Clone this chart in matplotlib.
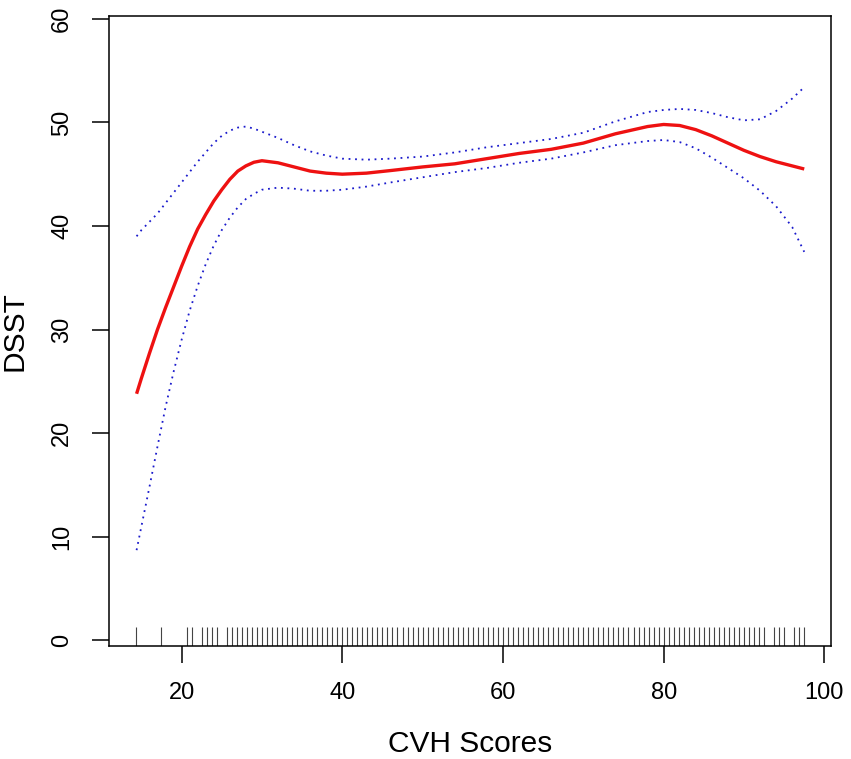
import matplotlib
matplotlib.use("Agg")
import matplotlib.pyplot as plt
import matplotlib.transforms as mtransforms

plt.rcParams['font.family'] = ['Liberation Sans', 'DejaVu Sans']

cvh = [14.4, 15, 16, 17, 18, 19, 20, 21, 22, 23, 24, 25, 26, 27, 28, 29, 30,
       32, 34, 36, 38, 40, 43, 46, 50, 54, 58, 62, 66, 70, 74, 78, 80, 82,
       84, 86, 88, 90, 92, 94, 96, 97.5]

# fitted DSST (red solid)
dsst_fit = [23.8, 25.3, 27.7, 30.0, 32.1, 34.1, 36.1, 38.0, 39.7, 41.1, 42.4,
            43.5, 44.5, 45.3, 45.8, 46.15, 46.3, 46.1, 45.7, 45.3, 45.1, 45.0,
            45.1, 45.35, 45.7, 46.0, 46.5, 47.0, 47.4, 48.0, 48.9, 49.6, 49.8,
            49.7, 49.3, 48.7, 48.0, 47.3, 46.7, 46.2, 45.8, 45.5]

# upper / lower 95% CI (blue dotted)
dsst_upper = [39.0, 39.6, 40.4, 41.2, 42.2, 43.2, 44.2, 45.2, 46.2, 47.1, 48.0,
              48.7, 49.2, 49.5, 49.6, 49.4, 49.1, 48.5, 47.8, 47.2, 46.8, 46.5,
              46.4, 46.5, 46.7, 47.1, 47.6, 48.0, 48.4, 49.0, 50.1, 51.0, 51.2,
              51.3, 51.2, 50.9, 50.5, 50.2, 50.3, 51.1, 52.3, 53.4]
dsst_lower = [8.7, 11.0, 14.8, 18.7, 22.5, 25.9, 29.0, 31.8, 34.2, 36.3, 38.1,
              39.6, 40.8, 41.8, 42.6, 43.1, 43.5, 43.7, 43.6, 43.4, 43.4, 43.5,
              43.8, 44.2, 44.7, 45.2, 45.6, 46.1, 46.5, 47.1, 47.8, 48.2, 48.3,
              48.1, 47.5, 46.6, 45.6, 44.6, 43.4, 41.9, 39.9, 37.5]

# observed CVH scores (rug)
rug_scores = [
    14.375, 17.5, 20.625, 21.25, 22.5, 23.125, 23.75, 24.375,
    25.625, 26.25, 26.875, 27.5, 28.125, 28.75, 29.375,
    30.0, 30.625, 31.25, 31.875, 32.5, 33.125, 33.75, 34.375,
    35.0, 35.625, 36.25, 36.875, 37.5, 38.125, 38.75, 39.375,
    40.0, 40.625, 41.25, 41.875, 42.5, 43.125, 43.75, 44.375,
    45.0, 45.625, 46.25, 46.875, 47.5, 48.125, 48.75, 49.375,
    50.0, 50.625, 51.25, 51.875, 52.5, 53.125, 53.75, 54.375,
    55.0, 55.625, 56.25, 56.875, 57.5, 58.125, 58.75, 59.375,
    60.0, 60.625, 61.25, 61.875, 62.5, 63.125, 63.75, 64.375,
    65.0, 65.625, 66.25, 66.875, 67.5, 68.125, 68.75, 69.375,
    70.0, 70.625, 71.25, 71.875, 72.5, 73.125, 73.75, 74.375,
    75.0, 75.625, 76.25, 76.875, 77.5, 78.125, 78.75, 79.375,
    80.0, 80.625, 81.25, 81.875, 82.5, 83.125, 83.75, 84.375,
    85.0, 85.625, 86.25, 86.875, 87.5, 88.125, 88.75, 89.375,
    90.0, 90.625, 91.25, 91.875, 92.5,
    93.75, 94.375, 95.0, 96.25, 96.875, 97.5,
]

x_ticks = [20, 40, 60, 80, 100]
y_ticks = [0, 10, 20, 30, 40, 50, 60]

fig = plt.figure(figsize=(8.51, 7.59), dpi=100)
ax = fig.add_axes([0.1284, 0.1489, 0.8478, 0.8304])

ax.plot(cvh, dsst_fit, color='#ee1111', lw=2.4, solid_capstyle='butt',
        solid_joinstyle='round')
ax.plot(cvh, dsst_upper, color='#1a1acc', lw=1.3, linestyle=(0, (1, 2.6)))
ax.plot(cvh, dsst_lower, color='#1a1acc', lw=1.3, linestyle=(0, (1, 2.6)))

# rug along the bottom edge
trans = mtransforms.blended_transform_factory(ax.transData, ax.transAxes)
ax.vlines(rug_scores, 0, 0.03, transform=trans, color='#444444', lw=0.8)

ax.set_xlim(11.0, 100.8)
ax.set_ylim(-0.55, 60.3)
ax.set_xticks(x_ticks)
ax.set_yticks(y_ticks)
ax.set_yticklabels([str(v) for v in y_ticks], rotation=90, va='center')

ax.tick_params(axis='both', direction='out', length=12, width=1.1,
               labelsize=17, pad=14, color='black')
for s in ax.spines.values():
    s.set_linewidth(1.1)

ax.set_xlabel("CVH Scores", fontsize=21.5, labelpad=19)
ax.set_ylabel("DSST", fontsize=21.5)
ax.yaxis.set_label_coords(-0.112, 0.5)

fig.savefig("out.png", dpi=100)
